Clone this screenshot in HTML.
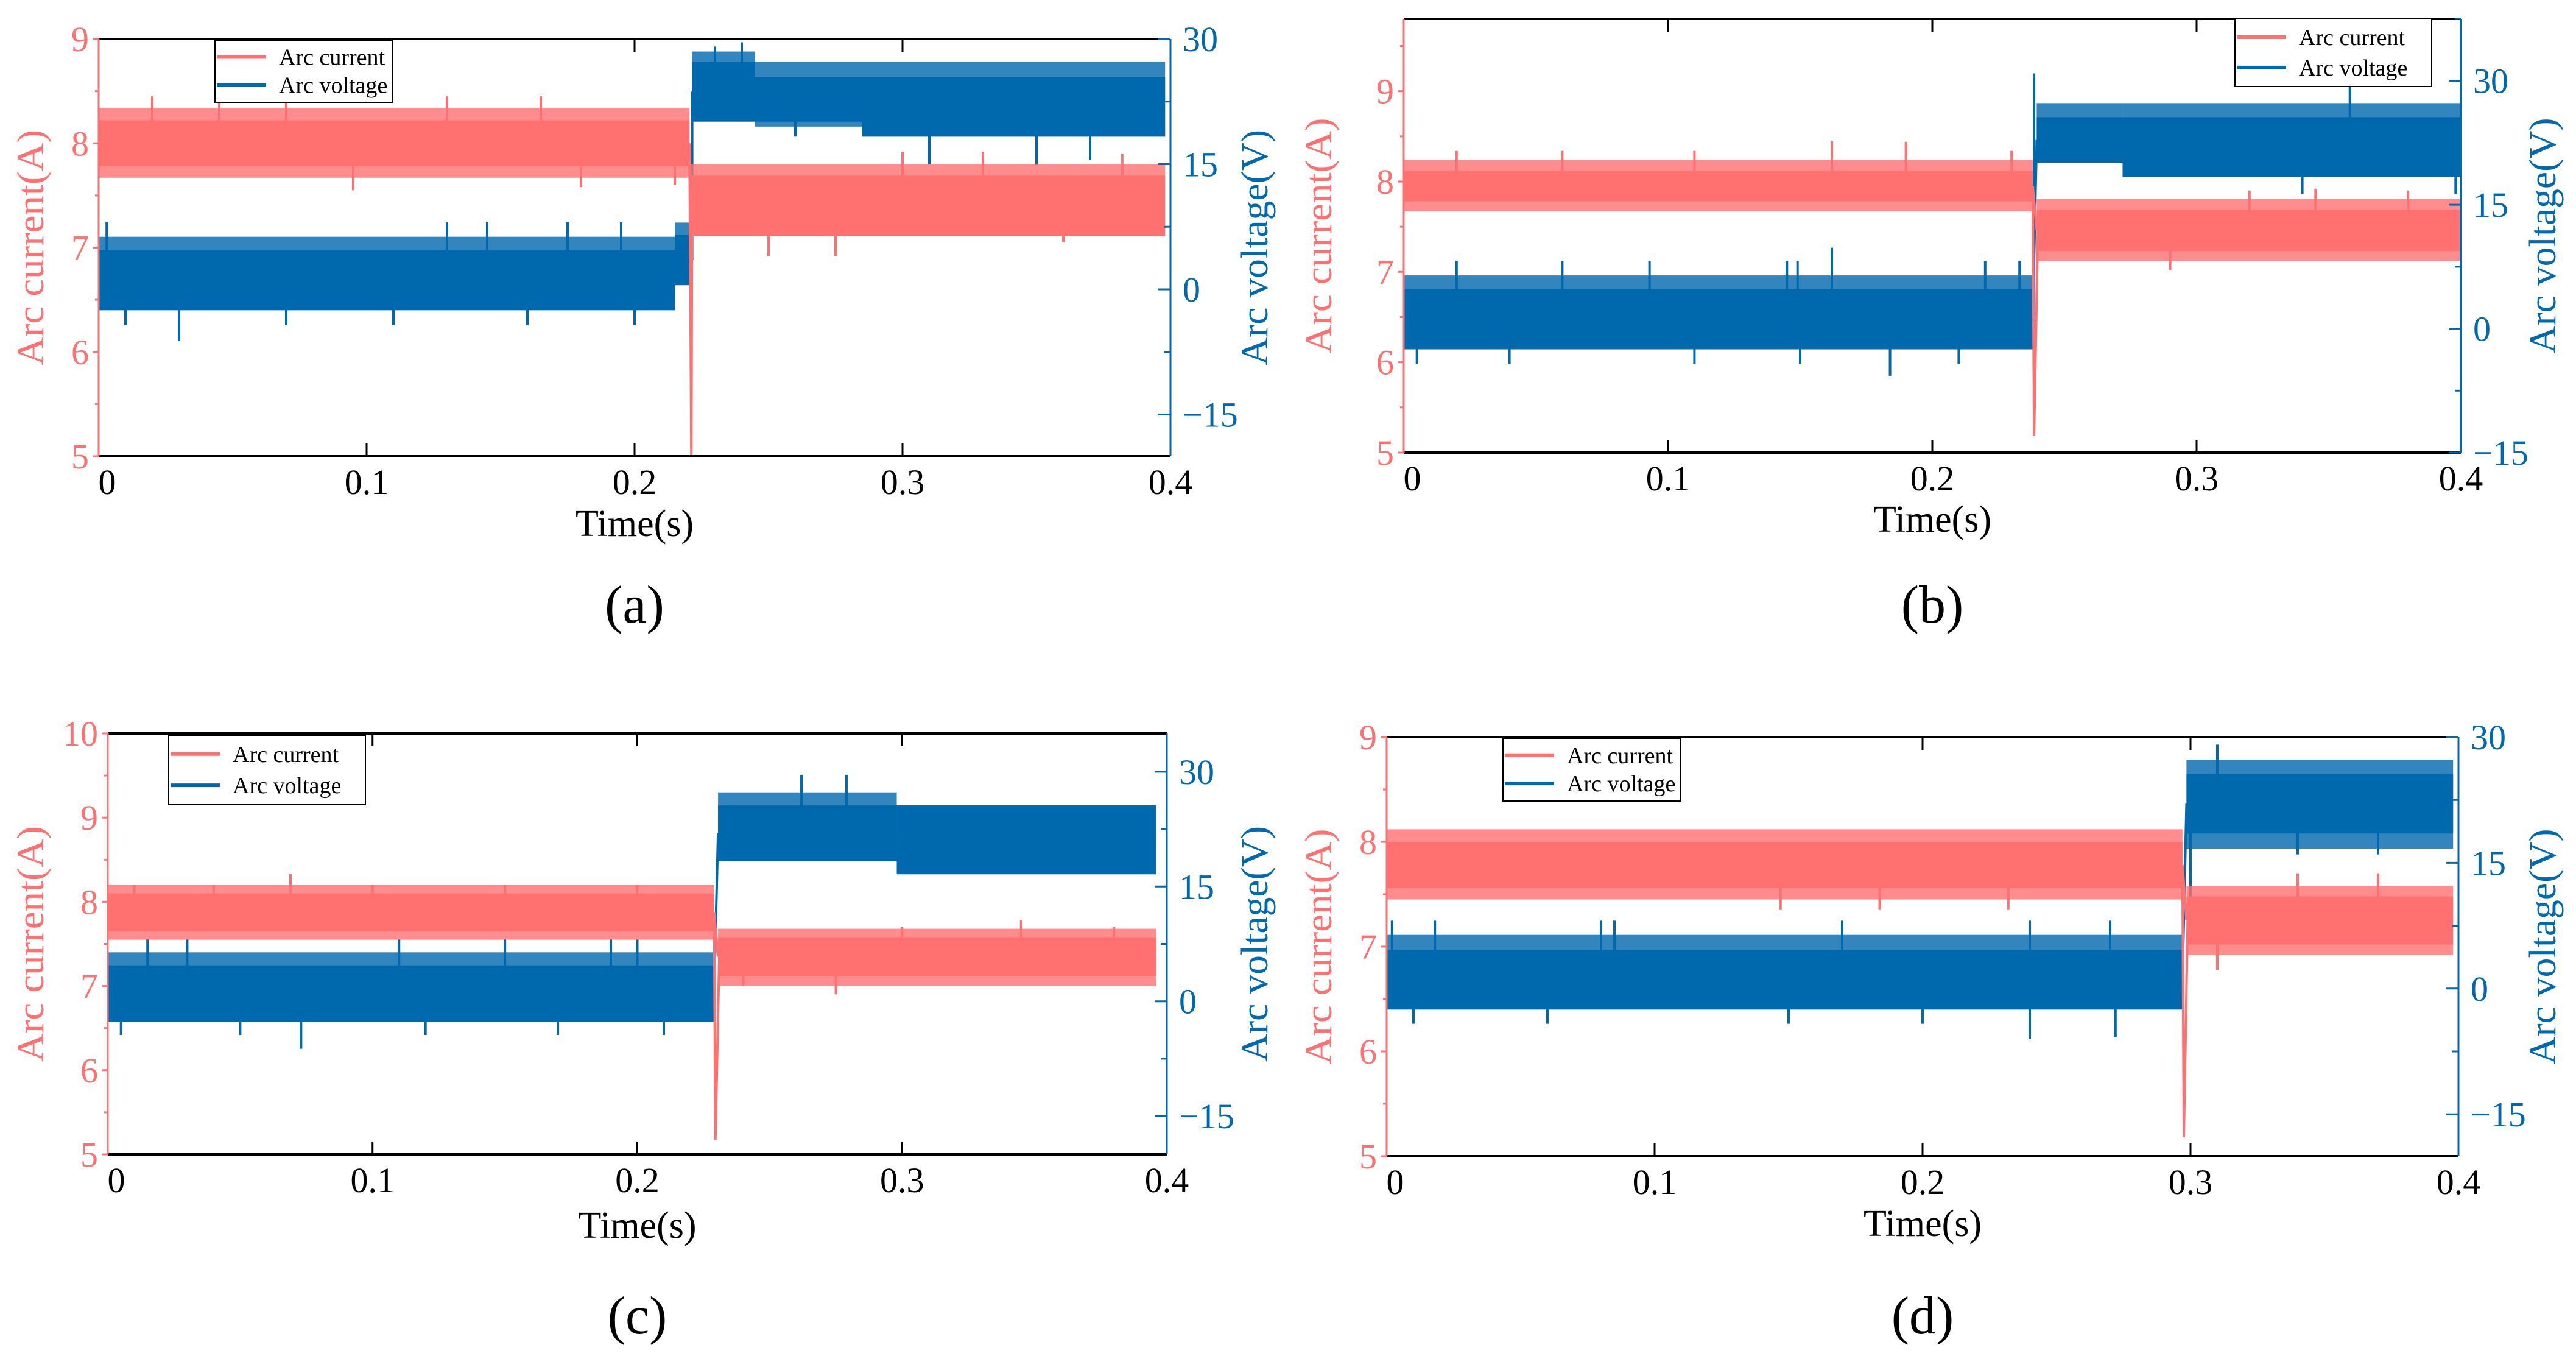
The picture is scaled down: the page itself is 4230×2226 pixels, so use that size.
<!DOCTYPE html>
<html><head><meta charset="utf-8"><style>
html,body{margin:0;padding:0;background:#fff;}
svg{display:block;}
svg text{font-family:"Liberation Serif",serif;}
</style></head>
<body>
<svg id="fig" width="4230" height="2226" viewBox="0 0 4230 2226" xmlns="http://www.w3.org/2000/svg" font-family="Liberation Serif, serif"></svg>
<script>
// ===== Panel (a) data =====
const aCurSegStart=[0,0.221]; const aCurSegEnd=[0.2205,0.398];
const aCurCoreLo=[7.78,7.11]; const aCurCoreHi=[8.22,7.69];
const aCurOuterLo=[7.67,7.11]; const aCurOuterHi=[8.34,7.80];
const aCurSpikeT=[0.02,0.045,0.07,0.095,0.13,0.165,0.18,0.215,0.25,0.275,0.30,0.33,0.36,0.382];
const aCurSpikeV=[8.45,8.45,8.45,7.55,8.45,8.45,7.58,7.6,6.92,6.92,7.92,7.92,7.05,7.9];
const aDip=[0.2212,5.0];
const aVolSegStart=[0,0.215,0.2215,0.245,0.285]; const aVolSegEnd=[0.215,0.2215,0.245,0.285,0.398];
const aVolCoreLo=[-2.5,0.5,20.1,20.1,18.3]; const aVolCoreHi=[4.7,6.5,27.3,25.4,25.4];
const aVolOuterLo=[-2.5,0.5,20.1,19.5,18.3]; const aVolOuterHi=[6.3,8,28.5,27.3,27.3];
const aVolSpikeT=[0.003,0.03,0.13,0.145,0.175,0.195,0.01,0.03,0.07,0.11,0.16,0.2,0.23,0.24,0.26,0.31,0.35,0.37];
const aVolSpikeV=[8.1,-4.3,8.1,8.1,8.1,8.1,-4.3,-6.2,-4.3,-4.3,-4.3,-4.3,29.1,29.6,18.3,15,14.9,15.5];

// ===== Panel (b) data =====
const bCurSegStart=[0,0.2395]; const bCurSegEnd=[0.238,0.4];
const bCurCoreLo=[7.78,7.23]; const bCurCoreHi=[8.12,7.69];
const bCurOuterLo=[7.67,7.12]; const bCurOuterHi=[8.24,7.81];
const bCurSpikeT=[0.02,0.06,0.11,0.162,0.19,0.23,0.29,0.32,0.345,0.38];
const bCurSpikeV=[8.34,8.34,8.34,8.45,8.44,8.34,7.02,7.9,7.92,7.9];
const bDip=[0.2385,5.19];
const bVolSegStart=[0,0.2395,0.272]; const bVolSegEnd=[0.238,0.272,0.4];
const bVolCoreLo=[-2.5,20.1,18.4]; const bVolCoreHi=[4.8,25.6,25.6];
const bVolOuterLo=[-2.5,20.1,18.4]; const bVolOuterHi=[6.45,27.3,27.3];
const bVolSpikeT=[0.02,0.06,0.093,0.145,0.149,0.162,0.22,0.233,0.005,0.04,0.11,0.15,0.184,0.21,0.2385,0.34,0.358,0.398];
const bVolSpikeV=[8.2,8.2,8.2,8.2,8.2,9.8,8.2,8.2,-4.3,-4.3,-4.3,-4.3,-5.7,-4.3,30.9,16.3,29.6,16.3];

// ===== Panel (c) data =====
const cCurSegStart=[0,0.2305]; const cCurSegEnd=[0.229,0.396];
const cCurCoreLo=[7.65,7.12]; const cCurCoreHi=[8.1,7.58];
const cCurOuterLo=[7.55,7.0]; const cCurOuterHi=[8.2,7.68];
const cCurSpikeT=[0.01,0.04,0.069,0.1,0.15,0.2,0.24,0.275,0.3,0.345,0.38];
const cCurSpikeV=[8.2,8.2,8.33,8.2,8.2,8.2,7.0,6.9,7.7,7.78,7.7];
const cDip=[0.2295,5.17];
const cVolSegStart=[0,0.2305,0.298]; const cVolSegEnd=[0.229,0.298,0.396];
const cVolCoreLo=[-2.7,18.3,16.6]; const cVolCoreHi=[4.7,25.6,25.6];
const cVolOuterLo=[-2.7,18.3,16.6]; const cVolOuterHi=[6.4,27.3,25.6];
const cVolSpikeT=[0.015,0.03,0.11,0.15,0.19,0.2,0.005,0.05,0.073,0.12,0.17,0.21,0.262,0.279];
const cVolSpikeV=[8.1,8.1,8.1,8.1,8.1,8.1,-4.4,-4.4,-6.2,-4.4,-4.4,-4.4,29.6,29.6];

// ===== Panel (d) data =====
const dCurSegStart=[0,0.2985]; const dCurSegEnd=[0.297,0.398];
const dCurCoreLo=[7.56,7.02]; const dCurCoreHi=[8.0,7.48];
const dCurOuterLo=[7.45,6.92]; const dCurOuterHi=[8.12,7.58];
const dCurSpikeT=[0.147,0.184,0.232,0.31,0.34,0.37];
const dCurSpikeV=[7.35,7.35,7.35,6.78,7.7,7.7];
const dDip=[0.2975,5.18];
const dVolSegStart=[0,0.2985]; const dVolSegEnd=[0.297,0.398];
const dVolCoreLo=[-2.5,18.5]; const dVolCoreHi=[4.6,25.6];
const dVolOuterLo=[-2.5,16.7]; const dVolOuterHi=[6.4,27.3];
const dVolSpikeT=[0.002,0.018,0.08,0.085,0.17,0.24,0.27,0.3,0.01,0.06,0.15,0.2,0.24,0.272,0.31,0.34,0.37];
const dVolSpikeV=[8.1,8.1,8.1,8.1,8.1,8.1,8.1,8.1,-4.2,-4.2,-4.2,-4.2,-6.0,-5.8,29.1,16.0,16.0];

// ===== Layout (pixel geometry) =====
const RED="#ff7070", BLUE="#0068ad";
const FONT="Liberation Serif, serif";
const panels=[
 {id:"a",L:162,R:1922,T:64,B:749,y1:[5,9],y1t:[5,6,7,8,9],y2:[-20,30],y2t:[-15,0,15,30],
  cur:[aCurSegStart,aCurSegEnd,aCurCoreLo,aCurCoreHi,aCurOuterLo,aCurOuterHi,aCurSpikeT,aCurSpikeV,aDip],
  vol:[aVolSegStart,aVolSegEnd,aVolCoreLo,aVolCoreHi,aVolOuterLo,aVolOuterHi,aVolSpikeT,aVolSpikeV],
  leg:[353,66,292,102],timeY:880,labY:1022,titleL:51,titleR:2061},
 {id:"b",L:2305,R:4041,T:31,B:743,y1:[5,9.8],y1t:[5,6,7,8,9],y2:[-15,37.5],y2t:[-15,0,15,30],
  cur:[bCurSegStart,bCurSegEnd,bCurCoreLo,bCurCoreHi,bCurOuterLo,bCurOuterHi,bCurSpikeT,bCurSpikeV,bDip],
  vol:[bVolSegStart,bVolSegEnd,bVolCoreLo,bVolCoreHi,bVolOuterLo,bVolOuterHi,bVolSpikeT,bVolSpikeV],
  leg:[3670,31,323,111],timeY:873,labY:1022,titleL:2166,titleR:4176},
 {id:"c",L:177,R:1916,T:1204,B:1895,y1:[5,10],y1t:[5,6,7,8,9,10],y2:[-20,35],y2t:[-15,0,15,30],
  cur:[cCurSegStart,cCurSegEnd,cCurCoreLo,cCurCoreHi,cCurOuterLo,cCurOuterHi,cCurSpikeT,cCurSpikeV,cDip],
  vol:[cVolSegStart,cVolSegEnd,cVolCoreLo,cVolCoreHi,cVolOuterLo,cVolOuterHi,cVolSpikeT,cVolSpikeV],
  leg:[277,1207,323,114],timeY:2032,labY:2189,titleL:51,titleR:2061},
 {id:"d",L:2277,R:4037,T:1210,B:1898,y1:[5,9],y1t:[5,6,7,8,9],y2:[-20,30],y2t:[-15,0,15,30],
  cur:[dCurSegStart,dCurSegEnd,dCurCoreLo,dCurCoreHi,dCurOuterLo,dCurOuterHi,dCurSpikeT,dCurSpikeV,dDip],
  vol:[dVolSegStart,dVolSegEnd,dVolCoreLo,dVolCoreHi,dVolOuterLo,dVolOuterHi,dVolSpikeT,dVolSpikeV],
  leg:[2468,1212,292,103],timeY:2029,labY:2189,titleL:2166,titleR:4176}
];
const NS="http://www.w3.org/2000/svg";
const svg=document.getElementById("fig");
function mk(tag,attrs,parent){const e=document.createElementNS(NS,tag);for(const k in attrs)e.setAttribute(k,attrs[k]);if(tag==="text")e.setAttribute("font-family",FONT);(parent||svg).appendChild(e);return e;}

panels.forEach(p=>{
  const g=mk("g",{});
  
  
  const xs=t=>p.L+(t/0.4)*(p.R-p.L);
  const y1s=v=>p.B-(v-p.y1[0])/(p.y1[1]-p.y1[0])*(p.B-p.T);
  const y2s=v=>p.B-(v-p.y2[0])/(p.y2[1]-p.y2[0])*(p.B-p.T);
  function series(d,ys,col,name){
    const sg=mk("g",{},g);
    
    
    const [s,e,cl,ch,ol,oh,st,sv]=d;
    for(let i=0;i<s.length;i++){
      const o=mk("rect",{x:xs(s[i]),y:ys(oh[i]),width:xs(e[i])-xs(s[i]),height:ys(ol[i])-ys(oh[i]),fill:col,opacity:0.8},sg);
      
      
      const c=mk("rect",{x:xs(s[i]),y:ys(ch[i]),width:xs(e[i])-xs(s[i]),height:ys(cl[i])-ys(ch[i]),fill:col},sg);
      
      
      if(i>0){
        const j=mk("line",{x1:xs(e[i-1]),x2:xs(s[i]),y1:ys((cl[i-1]+ch[i-1])/2),y2:ys((cl[i]+ch[i])/2),stroke:col,"stroke-width":4},sg);
        
        
      }
    }
    for(let k=0;k<st.length;k++){
      let idx=0;for(let i=0;i<s.length;i++){if(st[k]>=s[i])idx=i;}
      const mid=(cl[idx]+ch[idx])/2;
      const sp=mk("line",{x1:xs(st[k]),x2:xs(st[k]),y1:ys(mid),y2:ys(sv[k]),stroke:col,"stroke-width":4},sg);
      
      
    }
    if(d[8]){
      const dp=d[8];
      const pl=mk("polyline",{points:`${xs(e[0])},${ys((cl[0]+ch[0])/2)} ${xs(dp[0])},${ys(dp[1])} ${xs(s[1])+2},${ys((cl[1]+ch[1])/2)}`,fill:"none",stroke:col,"stroke-width":4},sg);
      
      
    }
  }
  series(p.vol,y2s,BLUE,'arc-voltage');
  series(p.cur,y1s,RED,'arc-current');
  const top=mk("line",{x1:p.L,x2:p.R,y1:p.T,y2:p.T,stroke:"#000","stroke-width":4},g);
  
  const bot=mk("line",{x1:p.L,x2:p.R,y1:p.B,y2:p.B,stroke:"#000","stroke-width":4},g);
  
  const la=mk("line",{x1:p.L,x2:p.L,y1:p.T,y2:p.B,stroke:RED,"stroke-width":3},g);
  
  const ra=mk("line",{x1:p.R,x2:p.R,y1:p.T,y2:p.B,stroke:BLUE,"stroke-width":3},g);
  
  const xt=[0,0.1,0.2,0.3,0.4];
  xt.forEach(t=>{
    if(t>0&&t<0.4){
      [p.B,p.T].forEach((yy,ii)=>{const tk=mk("line",{x1:xs(t),x2:xs(t),y1:yy,y2:ii?yy+21:yy-21,stroke:"#000","stroke-width":3},g);
      });
    }
    const tl=mk("text",{x:xs(t)+(t==0?14:0),y:p.B+62,"font-size":58,"text-anchor":"middle",fill:"#000"},g);
    tl.textContent=t==0?"0":String(t);
    
  });
  for(let v=p.y1[0];v<=p.y1[1]+1e-9;v+=0.5){
    const maj=Math.abs(v-Math.round(v))<1e-9;
    const tk=mk("line",{x1:p.L,x2:p.L-(maj?9:6),y1:y1s(v),y2:y1s(v),stroke:RED,"stroke-width":3},g);
    
  }
  p.y1t.forEach(v=>{
    const tl=mk("text",{x:p.L-16,y:y1s(v)+20,"font-size":58,"text-anchor":"end",fill:RED},g);
    tl.textContent=String(v);
    
  });
  for(let v=Math.ceil(p.y2[0]/7.5)*7.5;v<=p.y2[1];v+=7.5){
    const maj=Math.abs(v/15-Math.round(v/15))<1e-9;
    const tk=mk("line",{x1:p.R,x2:p.R-(maj?20:10),y1:y2s(v),y2:y2s(v),stroke:BLUE,"stroke-width":3},g);
    
  }
  p.y2t.forEach(v=>{
    const tl=mk("text",{x:p.R+20,y:y2s(v)+20,"font-size":58,"text-anchor":"start",fill:BLUE},g);
    tl.textContent=v<0?"\u2212"+Math.abs(v):String(v);
    
  });
  const midY=(p.T+p.B)/2;
  const lt=mk("text",{x:0,y:0,"font-size":62,"text-anchor":"middle",fill:RED,textLength:387,lengthAdjust:"spacingAndGlyphs",transform:`translate(${p.titleL+20},${midY}) rotate(-90)`},g);
  lt.textContent="Arc current(A)";
  
  const rt=mk("text",{x:0,y:0,"font-size":62,"text-anchor":"middle",fill:BLUE,textLength:387,lengthAdjust:"spacingAndGlyphs",transform:`translate(${p.titleR+20},${midY}) rotate(-90)`},g);
  rt.textContent="Arc voltage(V)";
  
  const xt2=mk("text",{x:(p.L+p.R)/2,y:p.timeY,"font-size":62,"text-anchor":"middle",fill:"#000"},g);
  xt2.textContent="Time(s)";
  
  const pl=mk("text",{x:(p.L+p.R)/2,y:p.labY,"font-size":88,"text-anchor":"middle",fill:"#000"},g);
  pl.textContent="("+p.id+")";
  
  const [lx,ly,lw,lh]=p.leg;
  const lg=mk("g",{},g);
  
  mk("rect",{x:lx,y:ly,width:lw,height:lh,fill:"#fff",stroke:"#000","stroke-width":2},lg);
  const rows=[["Arc current",RED],["Arc voltage",BLUE]];
  rows.forEach((r,i)=>{
    const yy=ly+lh*(i?0.72:0.27);
    const ln=mk("line",{x1:lx+3,x2:lx+84,y1:yy,y2:yy,stroke:r[1],"stroke-width":6},lg);
    
    const tx=mk("text",{x:lx+105,y:yy+13,"font-size":38,fill:"#000"},lg);
    tx.textContent=r[0];
    
  });
});
</script>
</body></html>
